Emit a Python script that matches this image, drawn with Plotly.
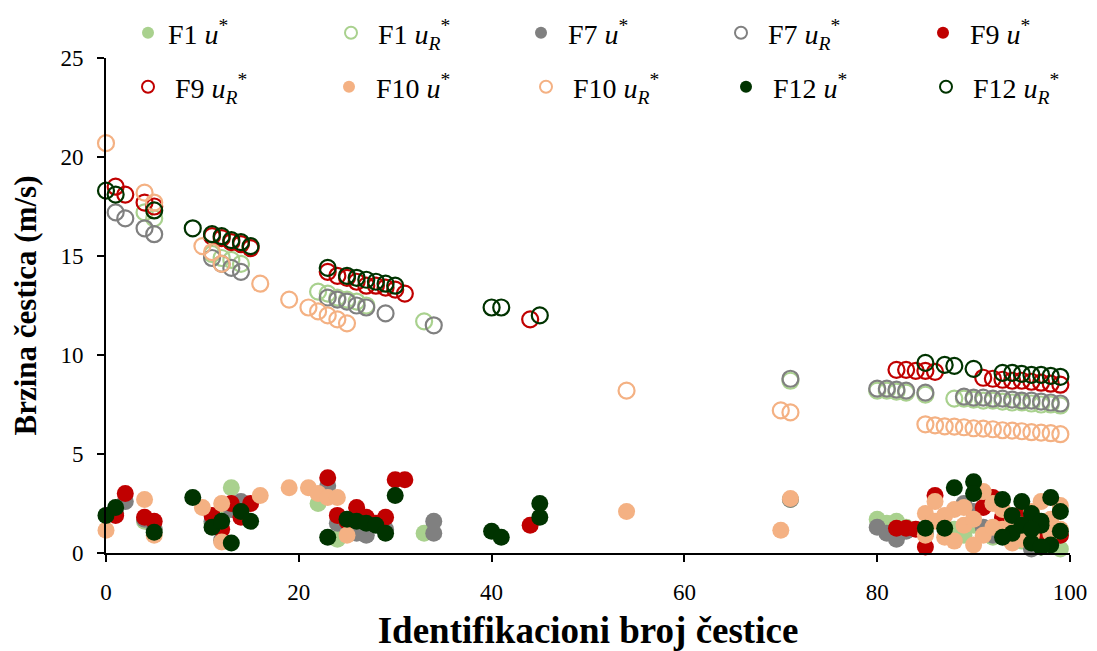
import plotly.graph_objects as go

# ---- data: particle id (x) and velocity (y) per series ----
f1_open_x = [4, 5, 11, 12, 13, 14, 22, 23, 24, 25, 26, 27, 33, 71, 80, 81, 82, 83, 85,
             88, 89, 90, 91, 92, 93, 94, 95, 96, 97, 98, 99]
f1_open_y = [17.2, 16.9, 15.1, 14.9, 14.8, 14.6, 13.2, 13.1, 12.9, 12.8, 12.7, 12.5, 11.7, 8.7,
             8.2, 8.2, 8.15, 8.1, 8.0, 7.8, 7.8, 7.75, 7.7, 7.7, 7.65, 7.6, 7.6, 7.55, 7.5, 7.5, 7.45]
f1_fill_x = [4, 5, 11, 12, 13, 14, 22, 23, 24, 25, 26, 27, 33, 71, 80, 81, 82, 83, 85,
             88, 89, 90, 91, 92, 93, 94, 95, 96, 97, 98, 99]
f1_fill_y = [1.6, 1.2, 1.5, 1.8, 3.3, 1.9, 2.5, 2.9, 0.7, 1.3, 1.4, 1.2, 1.0, 2.7, 1.7, 1.5, 1.6, 1.3, 1.0,
             1.2, 0.9, 1.4, 1.1, 0.8, 1.5, 1.2, 0.6, 1.0, 0.3, 0.8, 0.2]

f7_open_x = [1, 2, 4, 5, 11, 12, 13, 14, 23, 24, 25, 26, 27, 29, 34, 71, 80, 81, 82, 83, 85,
             89, 90, 91, 92, 93, 94, 95, 96, 97, 98, 99]
f7_open_y = [17.2, 16.9, 16.4, 16.1, 14.9, 14.6, 14.4, 14.2, 12.9, 12.8, 12.7, 12.5, 12.4, 12.1, 11.5, 8.8,
             8.3, 8.3, 8.25, 8.2, 8.1, 7.9, 7.85, 7.85, 7.8, 7.8, 7.75, 7.7, 7.7, 7.65, 7.6, 7.55]
f7_fill_x = [1, 2, 4, 5, 11, 12, 13, 14, 23, 24, 25, 26, 27, 29, 34, 34, 71, 80, 81, 82, 83, 85,
             89, 90, 91, 92, 93, 94, 95, 96, 97, 98, 99]
f7_fill_y = [2.0, 2.6, 1.7, 1.2, 1.6, 0.65, 2.2, 2.6, 3.4, 1.5, 1.2, 1.0, 0.9, 1.2, 1.6, 1.0, 2.7,
             1.3, 1.0, 0.7, 1.1, 1.0, 2.5, 2.1, 1.3, 0.9, 1.6, 1.2, 0.8, 0.2, 1.4, 0.6, 0.9]

f9_open_x = [1, 2, 4, 5, 11, 12, 13, 14, 15, 23, 24, 25, 26, 27, 28, 29, 30, 31, 44,
             82, 83, 84, 85, 86, 91, 92, 93, 94, 95, 96, 97, 98, 99]
f9_open_y = [18.5, 18.1, 17.7, 17.5, 16.0, 15.9, 15.7, 15.6, 15.4, 14.2, 14.0, 13.9, 13.7, 13.5, 13.5,
             13.4, 13.3, 13.1, 11.8, 9.25, 9.25, 9.2, 9.2, 9.15, 8.85, 8.8, 8.75, 8.7, 8.7, 8.65, 8.6, 8.55, 8.5]
f9_fill_x = [1, 2, 4, 5, 11, 12, 13, 14, 15, 23, 24, 25, 26, 27, 28, 29, 30, 31, 44,
             82, 83, 84, 85, 86, 91, 92, 93, 94, 95, 96, 97, 98, 99]
f9_fill_y = [1.9, 3.0, 1.8, 1.6, 1.9, 1.2, 2.5, 1.8, 2.5, 3.8, 1.9, 1.6, 2.3, 1.8, 1.5, 1.8, 3.7, 3.7, 1.4,
             1.25, 1.25, 1.2, 0.3, 2.9, 2.3, 2.8, 1.8, 0.9, 2.0, 1.3, 0.7, 1.1, 0.9]

f10_open_x = [0, 4, 5, 10, 11, 12, 16, 19, 21, 22, 23, 24, 25, 54, 70, 71,
              85, 86, 87, 88, 89, 90, 91, 92, 93, 94, 95, 96, 97, 98, 99]
f10_open_y = [20.7, 18.2, 17.7, 15.5, 15.2, 14.6, 13.6, 12.8, 12.4, 12.2, 12.0, 11.8, 11.6, 8.2, 7.2, 7.1,
              6.5, 6.45, 6.4, 6.38, 6.35, 6.3, 6.28, 6.25, 6.2, 6.18, 6.15, 6.1, 6.08, 6.05, 6.0]
f10_fill_x = [0, 4, 5, 10, 12, 12, 16, 19, 21, 22, 23, 24, 25, 54, 70, 71,
              85, 86, 87, 88, 89, 90, 91, 92, 93, 94, 95, 96, 97, 98, 99,
              85, 86, 87, 88, 89, 90, 91, 92, 93, 94, 95, 96, 97, 98, 99]
f10_fill_y = [1.15, 2.7, 0.9, 2.3, 2.5, 0.55, 2.9, 3.3, 3.3, 3.0, 2.8, 2.8, 0.9, 2.1, 1.15, 2.75,
              2.0, 1.6, 0.8, 2.2, 1.4, 0.4, 3.1, 2.5, 1.2, 1.8, 0.7, 2.1, 1.5, 1.0, 2.4,
              0.9, 2.6, 1.9, 0.6, 2.3, 1.7, 0.9, 1.3, 2.2, 0.5, 1.4, 0.9, 2.6, 1.7, 1.2]

f12_open_x = [0, 1, 5, 9, 11, 12, 13, 14, 15, 23, 25, 26, 27, 28, 29, 30, 40, 41, 45,
              85, 87, 88, 90, 93, 94, 95, 96, 97, 98, 99]
f12_open_y = [18.3, 18.1, 17.3, 16.4, 16.1, 16.0, 15.8, 15.7, 15.5, 14.4, 14.0, 13.9, 13.8, 13.7, 13.6, 13.5,
              12.4, 12.4, 12.0, 9.6, 9.5, 9.45, 9.3, 9.1, 9.1, 9.05, 9.0, 9.0, 8.95, 8.9]
f12_fill_x = [0, 1, 5, 9, 11, 12, 13, 14, 15, 23, 25, 26, 27, 28, 29, 30, 40, 41, 45, 45,
              85, 87, 88, 90, 90, 93, 94, 95, 96, 97, 98, 99,
              93, 94, 95, 96, 97, 98, 99, 96, 97]
f12_fill_y = [1.9, 2.3, 1.05, 2.8, 1.3, 1.6, 0.5, 2.1, 1.6, 0.8, 1.7, 1.6, 1.5, 1.4, 1.0, 2.9, 1.1, 0.8, 2.5, 1.8,
              1.25, 1.25, 3.3, 3.6, 3.0, 2.7, 1.0, 2.6, 2.0, 1.4, 2.8, 2.1,
              0.8, 1.9, 1.4, 0.5, 1.6, 0.4, 1.1, 1.2, 0.3]

series = [
    ('F1', '#a9d18e', f1_fill_x, f1_fill_y, f1_open_x, f1_open_y),
    ('F7', '#808080', f7_fill_x, f7_fill_y, f7_open_x, f7_open_y),
    ('F9', '#c00000', f9_fill_x, f9_fill_y, f9_open_x, f9_open_y),
    ('F10', '#f4b183', f10_fill_x, f10_fill_y, f10_open_x, f10_open_y),
    ('F12', '#003300', f12_fill_x, f12_fill_y, f12_open_x, f12_open_y),
]

FONT = 'Liberation Serif, Times New Roman, serif'
W, H = 1089, 643   # page has an 8px body margin

# legend slot positions (marker centre, px) : two rows of five
legend_x = [147, 350, 540, 740, 942, 147, 348, 545, 745, 945]
legend_y = [33] * 5 + [87] * 5

fig = go.Figure()
n = 0
for name, color, fx, fy, ox, oy in series:
    for kind in ('fill', 'open'):
        leg = 'legend' if n == 0 else f'legend{n + 1}'
        pad = '' if n == 0 else '\u00a0'   # wider gap between symbol and text
        if kind == 'fill':
            fig.add_trace(go.Scatter(
                x=fx, y=fy, mode='markers', name=f'{pad}{name} <i>u</i><sup>*</sup>',
                marker=dict(symbol='circle', size=17, color=color),
                cliponaxis=False, legend=leg, showlegend=True
            ))
        else:
            fig.add_trace(go.Scatter(
                x=ox, y=oy, mode='markers', name=f'{pad}{name} <i>u<sub>R</sub></i><sup>*</sup>',
                marker=dict(symbol='circle-open', size=16, color=color, line=dict(width=2.2)),
                cliponaxis=False, legend=leg, showlegend=True
            ))
        fig.update_layout({leg: dict(
            orientation='h', xref='container', yref='container',
            xanchor='left', yanchor='middle',
            x=(legend_x[n] - 27) / W, y=1 - (legend_y[n] - 8) / H,
            itemsizing='constant', bgcolor='rgba(0,0,0,0)',
            font=dict(family=FONT, size=28, color='black')
        )})
        n += 1

fig.update_layout(
    width=W, height=H, showlegend=True,
    margin=dict(l=98, r=27, t=50, b=98, autoexpand=False),
    plot_bgcolor='white', paper_bgcolor='white',
    font=dict(family=FONT, color='black'),
    xaxis=dict(
        range=[0, 100], dtick=20, showgrid=False, zeroline=False,
        showline=True, linecolor='black', linewidth=2,
        ticks='outside', ticklen=7, tickwidth=2, tickcolor='black',
        ticklabelstandoff=10,
        tickfont=dict(family=FONT, size=23),
        title=dict(text='<b>Identifikacioni broj čestice</b>', font=dict(family=FONT, size=37), standoff=14)
    ),
    yaxis=dict(
        range=[0, 25], dtick=5, showgrid=False, zeroline=False,
        showline=True, linecolor='black', linewidth=2,
        ticks='outside', ticklen=7, tickwidth=2, tickcolor='black',
        ticklabelstandoff=9,
        tickfont=dict(family=FONT, size=23),
        title=dict(text='<b>Brzina čestica (m/s)</b>', font=dict(family=FONT, size=31), standoff=18)
    ),
)

fig.write_html("out.html")
